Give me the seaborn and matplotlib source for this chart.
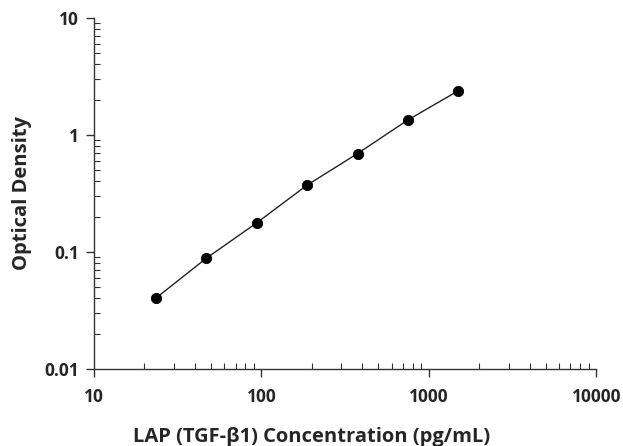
import numpy as np
import pandas as pd
import matplotlib
matplotlib.use("Agg")
import matplotlib.pyplot as plt
import matplotlib.ticker as mticker
import seaborn as sns

# standard curve values
concentration = [23.4, 46.9, 93.8, 187.5, 375, 750, 1500]
optical_density = [0.0402, 0.0883, 0.177, 0.372, 0.692, 1.34, 2.38]

x_ticks = [10, 100, 1000, 10000]
x_labels = ["10", "100", "1000", "10000"]
y_ticks = [0.01, 0.1, 1, 10]
y_labels = ["0.01", "0.1", "1", "10"]

df = pd.DataFrame({"conc": concentration, "od": optical_density})

sns.set_style("ticks")
plt.rcParams['font.family'] = ['Open Sans', 'DejaVu Sans']

fig = plt.figure(figsize=(6.23, 4.46), dpi=100)
ax = fig.add_axes([0.151, 0.173, 0.806, 0.787])

sns.lineplot(data=df, x="conc", y="od", color="#222222", linewidth=1.0, ax=ax)
sns.scatterplot(data=df, x="conc", y="od", color="black", s=55, edgecolor="black", zorder=3, ax=ax)

ax.set_xscale("log")
ax.set_yscale("log")
ax.set_xlim(10, 10000)
ax.set_ylim(0.01, 10)

ax.xaxis.set_major_locator(mticker.FixedLocator(x_ticks))
ax.xaxis.set_major_formatter(mticker.FixedFormatter(x_labels))
ax.yaxis.set_major_locator(mticker.FixedLocator(y_ticks))
ax.yaxis.set_major_formatter(mticker.FixedFormatter(y_labels))
ax.xaxis.set_minor_locator(mticker.LogLocator(base=10, subs=np.arange(2, 10)))
ax.yaxis.set_minor_locator(mticker.LogLocator(base=10, subs=np.arange(2, 10)))
ax.xaxis.set_minor_formatter(mticker.NullFormatter())
ax.yaxis.set_minor_formatter(mticker.NullFormatter())

ax.tick_params(which="major", direction="out", length=6, width=1, color="#333333",
               labelsize=12.5)
ax.tick_params(axis="x", which="major", pad=8)
ax.tick_params(axis="y", which="major", pad=5)
ax.tick_params(which="minor", direction="in", length=4, width=0.8, color="#333333")
for lab in ax.get_xticklabels() + ax.get_yticklabels():
    lab.set_fontweight("bold")

for side in ["left", "bottom"]:
    ax.spines[side].set_color("#333333")
    ax.spines[side].set_linewidth(1)
sns.despine(ax=ax)

ax.set_xlabel("LAP (TGF-β1) Concentration (pg/mL)", fontsize=14.5, fontweight="bold")
ax.set_ylabel("Optical Density", fontsize=14.5, fontweight="bold", labelpad=9)
# x label sits centred on the figure, not on the axes
ax.xaxis.set_label_coords(0.433, -0.165)

fig.savefig("out.png", dpi=100)
